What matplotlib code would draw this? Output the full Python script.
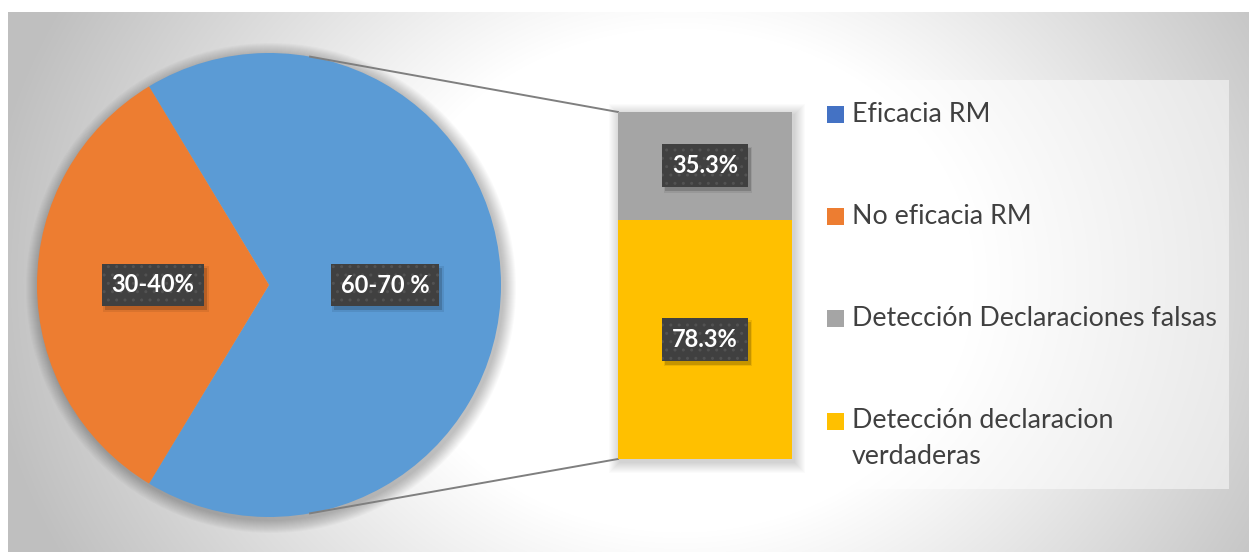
import numpy as np
import matplotlib.pyplot as plt
from matplotlib.patches import Rectangle, Circle
from matplotlib.transforms import IdentityTransform

plt.rcParams['font.family'] = ['Lato', 'DejaVu Sans']

# pie: the two slices (angles)
pie_names = ['Eficacia RM', 'No eficacia RM']
pie_values = [67.3, 32.7]
pie_text = ['60-70 %', '30-40%']
pie_colors = ['#5B9BD5', '#ED7D31']

# bar: split of the blue slice, from top to bottom
bar_names = ['Detección Declaraciones falsas', 'Detección declaracion\nverdaderas']
bar_values = [35.3, 78.3]
bar_colors = ['#A5A5A5', '#FFC000']

legend_names = pie_names + bar_names
legend_colors = ['#4472C4', '#ED7D31', '#A5A5A5', '#FFC000']

W, H = 1249, 552
fig = plt.figure(figsize=(W / 100, H / 100), dpi=100)

# background, radial grey gradient
bg = fig.add_axes([0, 0, 1, 1])
bg.axis('off')
yy, xx = np.mgrid[0:H, 0:W]
t = np.sqrt(((xx - 680) / 700) ** 2 + ((yy - 280) / 600) ** 2)
t = np.clip((t - 0.42) / 0.58, 0, 1)
g = 1 - t * 0.25
img = np.dstack([g, g, g])
img[:12, :] = 1
img[:, :8] = 1
bg.imshow(img, extent=(0, W, H, 0), aspect='auto', interpolation='bilinear')
bg.set_xlim(0, W)
bg.set_ylim(H, 0)

# main axes in pixel units
ax = fig.add_axes([0, 0, 1, 1])
ax.patch.set_alpha(0)
cx, cy, R = 269, 285, 232

# soft shadows
for k in range(1, 14):
    ax.add_patch(Circle((cx + 2, cy + 3), R + k, color='black', alpha=0.018, lw=0, zorder=1))
bx0, bx1, by0, by1 = 618, 792, 112, 459
for k in range(1, 12):
    ax.add_patch(Rectangle((bx0 - k + 2, by0 - k + 3), bx1 - bx0 + 2 * k, by1 - by0 + 2 * k,
                           color='black', alpha=0.015, lw=0, zorder=1))

start = 180 + pie_values[1] * 3.6 / 2
wedges, texts = ax.pie(pie_values, colors=pie_colors, labels=pie_text, labeldistance=0.5,
                       startangle=start, center=(cx, cy), radius=R,
                       wedgeprops=dict(linewidth=0, zorder=2))
ax.set_xlim(0, W)
ax.set_ylim(H, 0)
ax.axis('off')

FS = 17
labels = []


def label_box(txt):
    txt.set_color('white')
    txt.set_fontweight('bold')
    txt.set_fontsize(FS)
    txt.set_ha('center')
    txt.set_va('center')
    txt.set_zorder(6)
    txt.set_bbox(dict(boxstyle='square,pad=0.42', facecolor='#404040', edgecolor='#525252',
                      hatch='..', linewidth=0))
    labels.append(txt)


for tx in texts:
    label_box(tx)

# connector lines from the blue slice to the bar
a = np.radians(79.8)
ax.plot([cx + R * np.cos(a), bx0], [cy - R * np.sin(a), by0], color='#7F7F7F', lw=1.4, zorder=3)
ax.plot([cx + R * np.cos(a), bx0], [cy + R * np.sin(a), by1], color='#7F7F7F', lw=1.4, zorder=3)

# stacked bar
bax = fig.add_axes([bx0 / W, (H - by1) / H, (bx1 - bx0) / W, (by1 - by0) / H])
bax.patch.set_alpha(0)
bottom = 0
for name, v, c in reversed(list(zip(bar_names, bar_values, bar_colors))):
    bax.bar(0, v, bottom=bottom, width=1, color=c, linewidth=0)
    label_box(bax.text(0, bottom + v / 2, '%.1f%%' % v))
    bottom += v
bax.set_xlim(-0.5, 0.5)
bax.set_ylim(0, sum(bar_values))
bax.axis('off')

# legend
ax.add_patch(Rectangle((812, 80), 417, 409, facecolor='white', alpha=0.5, lw=0, zorder=2))
ys = [114, 216, 318, 421]
for name, c, y in zip(legend_names, legend_colors, ys):
    ax.add_patch(Rectangle((827, y - 8.5), 17, 17, facecolor=c, lw=0, zorder=3))
    for i, line in enumerate(name.split('\n')):
        ax.text(852, y + i * 36, line, fontsize=19.3, color='#404040', ha='left', va='center', zorder=3)

# drop shadows under the label boxes
fig.canvas.draw()
for txt in labels:
    bb = txt.get_bbox_patch().get_window_extent()
    for k, al in [(0, 0.16), (1.5, 0.08)]:
        shadow = Rectangle((bb.x0 + 3 - k, bb.y0 - 4 - k), bb.width + 2 * k, bb.height + 2 * k,
                           transform=IdentityTransform(), facecolor='black', alpha=al, lw=0, zorder=5)
        txt.axes.add_patch(shadow)

fig.savefig('out.png', dpi=100)
